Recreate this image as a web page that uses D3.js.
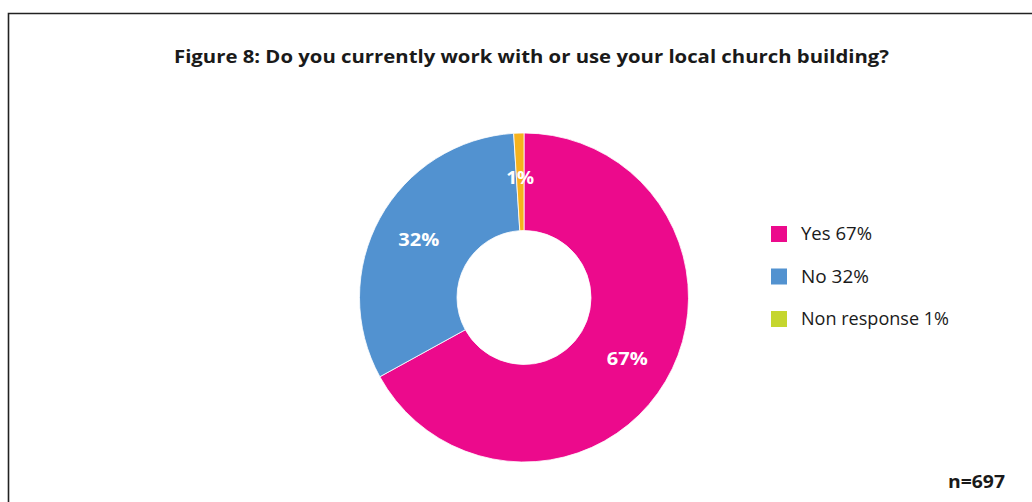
<!DOCTYPE html>
<html>
<head>
<meta charset="utf-8">
<script src="https://cdn.jsdelivr.net/npm/d3@7"></script>
<style>
  html, body { margin: 0; padding: 0; background: #fff; }
  svg { display: block; }
</style>
</head>
<body>
<svg id="chart" width="1032" height="502"></svg>
<script>
const categories = ["Yes", "No", "Non response"];
const values = [67, 32, 1];
const sliceLabels = ["67%", "32%", "1%"];
const legendLabels = ["Yes 67%", "No 32%", "Non response 1%"];
const sliceColors = ["#EC0A8C", "#5292D0", "#F7B31D"];
const legendColors = ["#EC0A8C", "#5292D0", "#C5D62E"];
const title = "Figure 8: Do you currently work with or use your local church building?";
const note = "n=697";

const svg = d3.select("#chart");
const W = 1032, H = 502;
const font = "'Open Sans', 'Noto Sans', sans-serif";

// fit text width to a target (reference font is wider)
function fit(sel, w) {
  sel.attr("textLength", w).attr("lengthAdjust", "spacingAndGlyphs");
}

// frame (top and left border)
svg.append("path")
  .attr("d", `M8.5,${H} L8.5,13.5 L${W},13.5`)
  .attr("fill", "none").attr("stroke", "#222").attr("stroke-width", 1.6);

// title
svg.append("text")
  .attr("x", 531.5).attr("y", 63)
  .attr("text-anchor", "middle")
  .attr("font-family", font).attr("font-weight", 700)
  .attr("font-size", 18.5).attr("fill", "#1a1a1a")
  .text(title)
  .call(fit, 715);

const cx = 524, cy = 297.5, rOuter = 164.5, rInner = 67;
const pie = d3.pie().sort(null).value(d => d)(values);
const arc = d3.arc().innerRadius(rInner).outerRadius(rOuter);
const labelArc = d3.arc().innerRadius(120).outerRadius(120);

const g = svg.append("g").attr("transform", `translate(${cx},${cy})`);
g.selectAll("path.slice").data(pie).join("path")
  .attr("class", "slice")
  .attr("d", arc)
  .attr("fill", (d, i) => sliceColors[i])
  .attr("stroke", "#fff").attr("stroke-width", 0.8);

const labelW = [41, 41, 28];
g.selectAll("text.lbl").data(pie).join("text")
  .attr("class", "lbl")
  .attr("transform", d => `translate(${labelArc.centroid(d)})`)
  .attr("text-anchor", "middle").attr("dy", "0.36em")
  .attr("font-family", font).attr("font-weight", 700)
  .attr("font-size", 17.5).attr("fill", "#fff")
  .text((d, i) => sliceLabels[i])
  .each(function(d, i) { d3.select(this).call(fit, labelW[i]); });

// legend
const legendW = [71, 68, 148];
const legend = svg.append("g").attr("transform", "translate(771,226)");
const rows = legend.selectAll("g").data(categories).join("g")
  .attr("transform", (d, i) => `translate(0,${i * 42.5})`);
rows.append("rect").attr("width", 16).attr("height", 16)
  .attr("fill", (d, i) => legendColors[i]);
rows.append("text").attr("x", 30).attr("y", 8).attr("dy", "0.36em")
  .attr("font-family", font).attr("font-size", 17.5).attr("fill", "#1a1a1a")
  .text((d, i) => legendLabels[i])
  .each(function(d, i) { d3.select(this).call(fit, legendW[i]); });

// n note
svg.append("text")
  .attr("x", 1005).attr("y", 488)
  .attr("text-anchor", "end")
  .attr("font-family", font).attr("font-weight", 700)
  .attr("font-size", 17.5).attr("fill", "#1a1a1a")
  .text(note)
  .call(fit, 57);
</script>
</body>
</html>
